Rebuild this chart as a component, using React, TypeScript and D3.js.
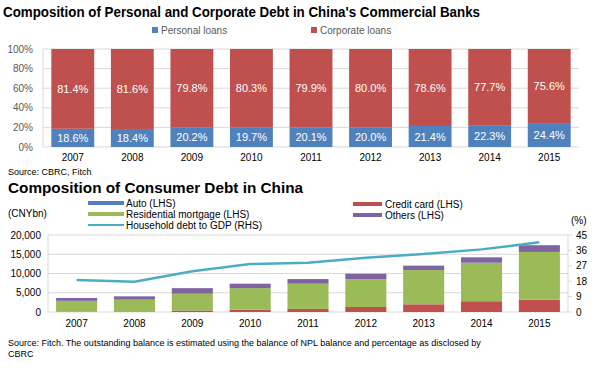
import React from "react";
import * as d3 from "d3";

const years = ["2007", "2008", "2009", "2010", "2011", "2012", "2013", "2014", "2015"];
const personalShare = [18.6, 18.4, 20.2, 19.7, 20.1, 20.0, 21.4, 22.3, 24.4];
const corporateShare = [81.4, 81.6, 79.8, 80.3, 79.9, 80.0, 78.6, 77.7, 75.6];

const autoLoans = [0, 0, 0, 0, 0, 0, 0, 0, 0];
const creditCard = [100, 150, 400, 600, 800, 1300, 2000, 2800, 3200];
const mortgage = [2800, 3050, 4350, 5600, 6550, 7200, 8900, 10000, 12400];
const others = [750, 870, 1450, 1150, 1200, 1450, 1150, 1400, 1750];
const debtToGdp = [18.7, 17.7, 23.8, 28.0, 28.8, 31.7, 33.9, 36.6, 40.7];

const leftTicks = [0, 5000, 10000, 15000, 20000];
const rightTicks = [0, 9, 18, 27, 36, 45];
const pctTicks = [0, 20, 40, 60, 80, 100];

const BLUE = "#4f81bd";
const RED = "#c0504d";
const GREEN = "#9bbb59";
const PURPLE = "#8064a2";
const TEAL = "#4bacc6";
const GRID = "#d9d9d9";
const TXT = "#595959";
const FONT = "'Liberation Sans', Arial, sans-serif";

export default function App() {
  // top chart
  const x1 = d3.scaleBand().domain(years).range([43, 579]).paddingInner(0.28).paddingOuter(0.14);
  const y1 = d3.scaleLinear().domain([0, 100]).range([147, 49]);

  // bottom chart
  const x2 = d3.scaleBand().domain(years).range([48, 568]).paddingInner(0.29).paddingOuter(0.14);
  const y2 = d3.scaleLinear().domain([0, 20000]).range([312, 235]);
  const y2r = d3.scaleLinear().domain([0, 45]).range([312, 235]);

  const rows = years.map((yr, i) => ({
    year: yr,
    auto: autoLoans[i],
    credit: creditCard[i],
    mortgage: mortgage[i],
    others: others[i],
  }));
  const keys = ["auto", "credit", "mortgage", "others"];
  const colors: Record<string, string> = { auto: BLUE, credit: RED, mortgage: GREEN, others: PURPLE };
  const stacked = d3.stack<any>().keys(keys)(rows);

  const line = d3
    .line<number>()
    .x((_, i) => (x2(years[i]) as number) + x2.bandwidth() / 2)
    .y((d) => y2r(d));

  const fmt = d3.format(",");

  return (
    <svg width={601} height={370} style={{ position: "absolute", left: 0, top: 0, fontFamily: FONT }}>
      <rect width={601} height={370} fill="#fff" />

      {/* Top title */}
      <text x={3} y={17} fontSize={15} fontWeight="bold" fill="#000" textLength={477} lengthAdjust="spacingAndGlyphs">
        Composition of Personal and Corporate Debt in China's Commercial Banks
      </text>

      {/* Top legend */}
      <rect x={152} y={27} width={6} height={6} fill={BLUE} />
      <text x={161} y={33.5} fontSize={10} fill={TXT}>Personal loans</text>
      <rect x={311} y={27} width={6} height={6} fill={RED} />
      <text x={320} y={33.5} fontSize={10} fill={TXT}>Corporate loans</text>

      {/* Top grid & axis */}
      {pctTicks.map((t) => (
        <g key={t}>
          <line x1={43} x2={579} y1={y1(t)} y2={y1(t)} stroke={GRID} strokeWidth={1} />
          <text x={33} y={y1(t) + 3.5} fontSize={10} fill={TXT} textAnchor="end">{t}%</text>
        </g>
      ))}
      <line x1={43} x2={43} y1={49} y2={147} stroke={GRID} />

      {years.map((yr, i) => {
        const bx = x1(yr) as number;
        const bw = x1.bandwidth();
        const pTop = y1(personalShare[i]);
        const cTop = y1(personalShare[i] + corporateShare[i]);
        return (
          <g key={yr}>
            <rect x={bx} y={pTop} width={bw} height={y1(0) - pTop} fill={BLUE} />
            <rect x={bx} y={cTop} width={bw} height={pTop - cTop} fill={RED} />
            <text x={bx + bw / 2} y={(pTop + y1(0)) / 2 + 4} fontSize={11} fill="#fff" textAnchor="middle">
              {personalShare[i].toFixed(1)}%
            </text>
            <text x={bx + bw / 2} y={(pTop + cTop) / 2 + 4} fontSize={11} fill="#fff" textAnchor="middle">
              {corporateShare[i].toFixed(1)}%
            </text>
            <text x={bx + bw / 2} y={161} fontSize={10} fill="#000" textAnchor="middle">{yr}</text>
          </g>
        );
      })}

      <text x={8} y={175} fontSize={9} fill="#000">Source: CBRC, Fitch</text>

      {/* Bottom title */}
      <text x={8} y={193} fontSize={15} fontWeight="bold" fill="#000" textLength={295} lengthAdjust="spacingAndGlyphs">
        Composition of Consumer Debt in China
      </text>

      {/* Bottom legend */}
      <rect x={88} y={201} width={36} height={4} fill={BLUE} />
      <text x={126} y={207} fontSize={10} fill="#000">Auto (LHS)</text>
      <rect x={88} y={212} width={36} height={4} fill={GREEN} />
      <text x={126} y={218} fontSize={10} fill="#000">Residential mortgage (LHS)</text>
      <line x1={88} x2={124} y1={225} y2={225} stroke={TEAL} strokeWidth={2} />
      <text x={126} y={229} fontSize={10} fill="#000">Household debt to GDP (RHS)</text>
      <rect x={353} y={202} width={29} height={4} fill={RED} />
      <text x={385} y={208} fontSize={10} fill="#000">Credit card (LHS)</text>
      <rect x={353} y={213} width={29} height={4} fill={PURPLE} />
      <text x={385} y={219} fontSize={10} fill="#000">Others (LHS)</text>

      <text x={8} y={217} fontSize={10} fill="#000">(CNYbn)</text>
      <text x={571} y={224} fontSize={10} fill="#000">(%)</text>

      {/* Bottom grid & axes */}
      {leftTicks.map((t) => (
        <g key={t}>
          <line x1={48} x2={568} y1={y2(t)} y2={y2(t)} stroke={GRID} />
          <text x={41} y={y2(t) + 3.5} fontSize={10} fill="#000" textAnchor="end">{fmt(t)}</text>
        </g>
      ))}
      <line x1={48} x2={48} y1={235} y2={312} stroke={GRID} />
      <line x1={568} x2={568} y1={235} y2={312} stroke={GRID} />
      {rightTicks.map((t) => (
        <g key={t}>
          <line x1={568} x2={572} y1={y2r(t)} y2={y2r(t)} stroke={GRID} />
          <text x={576} y={y2r(t) + 3.5} fontSize={10} fill="#000">{t}</text>
        </g>
      ))}

      {stacked.map((s) => (
        <g key={s.key} fill={colors[s.key]}>
          {s.map((d, i) => (
            <rect
              key={i}
              x={x2(years[i]) as number}
              y={y2(d[1])}
              width={x2.bandwidth()}
              height={Math.max(0, y2(d[0]) - y2(d[1]))}
            />
          ))}
        </g>
      ))}

      <path d={line(debtToGdp) || ""} fill="none" stroke={TEAL} strokeWidth={2.5} />

      {years.map((yr) => (
        <text key={yr} x={(x2(yr) as number) + x2.bandwidth() / 2} y={327} fontSize={10} fill="#000" textAnchor="middle">
          {yr}
        </text>
      ))}

      <text x={8} y={346} fontSize={9} fill="#000">
        Source: Fitch. The outstanding balance is estimated using the balance of NPL balance and percentage as disclosed by
      </text>
      <text x={8} y={357} fontSize={9} fill="#000">CBRC</text>
    </svg>
  );
}
